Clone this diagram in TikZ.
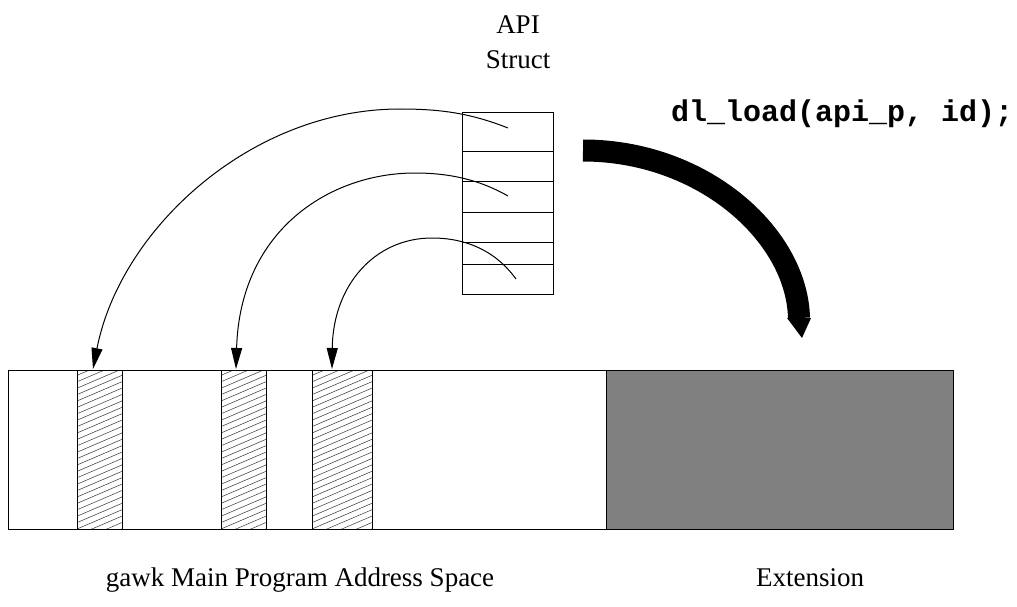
\documentclass[tikz,border=0pt]{standalone}
\usepackage{fontspec}
\setmainfont{Liberation Serif}
\setmonofont{Liberation Mono}
\usetikzlibrary{arrows.meta}
\begin{document}
\begin{tikzpicture}[x=1pt,y=-1pt,
  thin line/.style={line width=1pt},
  hatchline/.style={line width=0.55pt, black!75},
  ptr/.style={line width=1pt, -{Triangle[length=21pt,width=11pt]}},
  lbl/.style={inner sep=0pt, anchor=base, font=\fontsize{27}{32}\selectfont},
  code/.style={inner sep=0pt, anchor=base west, font=\fontsize{30}{34}\selectfont\ttfamily\bfseries}]
\useasboundingbox (0,0) rectangle (1017,607);
% API struct
\node[lbl] (api) at (518,34) {API};
\node[lbl] (struct) at (518,69) {Struct};
\draw[thin line] (462,113) rectangle (553,294);
\foreach \yy in {151,181,212,242,264} \draw[thin line] (462,\yy) -- (553,\yy);
% address space
\fill[fill=black!50] (606,370) rectangle (953,529);
\draw[thin line] (8,370) rectangle (953,529);
\draw[thin line] (606,370) -- (606,529);
% hatched strips
\foreach \xa/\xb in {77/122, 221/266, 312/372} {
  \begin{scope}
    \clip (\xa,370) rectangle (\xb,529);
    \foreach \k in {-12,...,40}
      \draw[hatchline] (\xa,{529-\k*6.4}) -- ++(70,-30);
  \end{scope}
  \draw[thin line] (\xa,370) rectangle (\xb,529);
}
% pointer arrows
\coordinate (s1) at (508,128); \coordinate (t1) at (93,369);
\coordinate (s2) at (508,196); \coordinate (t2) at (236,369);
\coordinate (s3) at (516,279); \coordinate (t3) at (332,369);
\draw[ptr] (s1) .. controls (470,113) and (440,109) .. (400,109)
  .. controls (250,109) and (120,230) .. (t1);
\draw[ptr] (s2) .. controls (480,180) and (450,173) .. (415,173)
  .. controls (330,173) and (240,230) .. (t2);
\draw[ptr] (s3) .. controls (495,250) and (465,238) .. (432,238)
  .. controls (375,238) and (333,285) .. (t3);
% dl_load arrow
\coordinate (ls) at (583,150.5);
\coordinate (le) at (799,318);
\draw[line width=22pt] (ls) .. controls (703,150.5) and (797,235) .. (le);
\fill (787,318) -- (811,318) -- (802,338) -- cycle;
\node[code] (dl) at (671,122) {dl\_load(api\_p, id);};
% labels
\node[lbl] (gawk) at (300,586) {gawk Main Program Address Space};
\node[lbl] (ext) at (810,586) {Extension};
\end{tikzpicture}
\end{document}
